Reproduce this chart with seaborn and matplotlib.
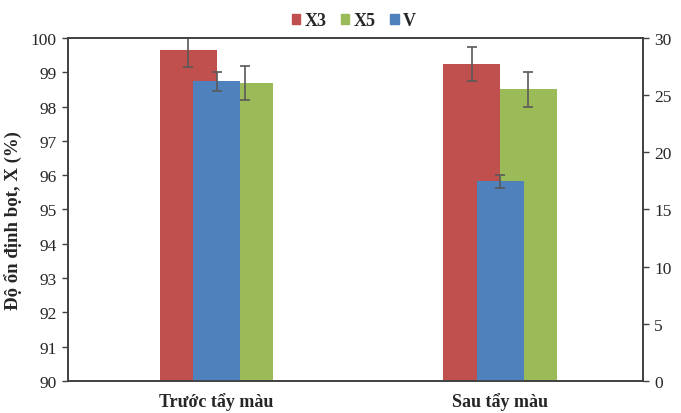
import numpy as np
import pandas as pd
import matplotlib
matplotlib.use("Agg")
import matplotlib.pyplot as plt
import seaborn as sns
from matplotlib.patches import Patch

# === Data ===
categories = ["Trước tẩy màu", "Sau tẩy màu"]
x3_vals = [99.66, 99.24]
x3_err = [0.50, 0.50]
x5_vals = [98.68, 98.50]
x5_err = [0.49, 0.50]
v_vals = [26.2, 17.45]
v_err = [0.80, 0.55]

RED, GREEN, BLUE = "#C0504D", "#9BBB59", "#4F81BD"
ERR = "#595959"

sns.set_theme(style="white")
plt.rcParams["font.family"] = ["Liberation Serif", "DejaVu Serif"]

df = pd.DataFrame({
    "cat": categories * 2,
    "series": ["X3"] * 2 + ["X5"] * 2,
    "val": x3_vals + x5_vals,
    "err": x3_err + x5_err,
})
df_v = pd.DataFrame({"cat": categories, "val": v_vals, "err": v_err})

fig = plt.figure(figsize=(6.81, 4.14), dpi=100)
ax = fig.add_axes([0.0999, 0.0773, 0.8443, 0.8285])

# Primary axis: X3, X5
sns.barplot(data=df, x="cat", y="val", hue="series", palette=[RED, GREEN],
            width=0.4, errorbar=None, ax=ax, legend=False, saturation=1,
            linewidth=0)
for i, s in enumerate(["X3", "X5"]):
    sub = df[df.series == s]
    xs = np.arange(len(categories)) + (-0.1 if i == 0 else 0.1)
    ax.errorbar(xs, sub["val"], yerr=sub["err"], fmt="none", ecolor=ERR,
                elinewidth=1.2, capsize=3.5, capthick=1.2, zorder=5)

ax.set_ylim(90, 100)
ax.set_yticks(np.arange(90, 101, 1))
ax.set_xlim(-0.524, 1.504)
ax.set_xlabel("")
ax.set_ylabel("Độ ổn định bọt, X (%)", fontsize=13.5, fontweight="bold",
              labelpad=6, y=0.47)
ax.set_xticks(range(len(categories)))
ax.set_xticklabels(categories, fontsize=13, fontweight="bold")
ax.tick_params(axis="x", length=0, pad=8)
ax.tick_params(axis="y", direction="out", length=4, width=1, labelsize=12.5,
               color="#404040", left=True, pad=4)

# Secondary axis: V
ax2 = ax.twinx()
sns.barplot(data=df_v, x="cat", y="val", color=BLUE, width=0.166,
            errorbar=None, ax=ax2, saturation=1, linewidth=0)
ax2.errorbar(np.arange(len(categories)), df_v["val"], yerr=df_v["err"],
             fmt="none", ecolor=ERR, elinewidth=1.2, capsize=3.5,
             capthick=1.2, zorder=5)
ax2.set_ylim(0, 30)
ax2.set_yticks(np.arange(0, 31, 5))
ax2.set_ylabel("")
ax2.set_xlim(-0.524, 1.504)
ax2.tick_params(axis="y", direction="out", length=4, width=1, labelsize=12.5,
                color="#404040", right=True, pad=4)

for a in (ax, ax2):
    for sp in a.spines.values():
        sp.set_color("#404040")
        sp.set_linewidth(1.2)

handles = [Patch(color=RED, label="X3"), Patch(color=GREEN, label="X5"),
           Patch(color=BLUE, label="V")]
fig.legend(handles=handles, loc="center", bbox_to_anchor=(0.52, 0.947), ncol=3,
           frameon=False, handlelength=0.45, handleheight=0.45,
           handletextpad=0.25, columnspacing=0.8,
           prop={"weight": "bold", "size": 13})

fig.savefig("out.png", dpi=100)
